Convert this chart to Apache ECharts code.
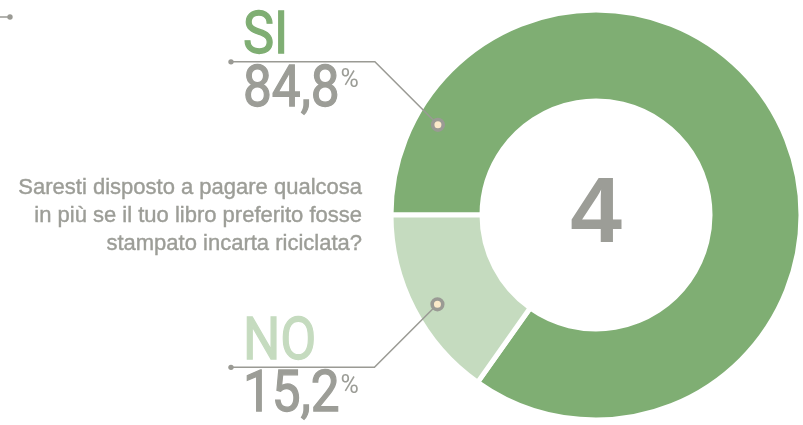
<!DOCTYPE html>
<html>
<head>
<meta charset="utf-8">
<script src="https://cdn.jsdelivr.net/npm/echarts@6/dist/echarts.min.js"></script>
<style>
html,body{margin:0;padding:0;background:#fff;}
#chart{width:803px;height:425px;}
</style>
</head>
<body>
<div id="chart"></div>
<script>
// ---- data ----
const categories = ['SI', 'NO'];
const values = [84.8, 15.2];
const valueLabels = ['84,8', '15,2'];
const centerNumber = '4';
const questionLines = [
  'Saresti disposto a pagare qualcosa',
  'in più se il tuo libro preferito fosse',
  'stampato incarta riciclata?'
];

// ---- style ----
const colors = ['#7fae73', '#c5dbbf'];
const grey = '#9c9d97';
const lineGrey = '#9a9a94';
const cx = 596, cy = 215, rIn = 114, rOut = 205;
const calloutAngles = [150.3, 209.4]; // degrees (math convention) where callout dots sit
const calloutR = 182;
const labelX = 246;
const lineStartX = 231;
const narrow = 0.9;
const bigFont = '57px Roboto';
const catFont = '60px Roboto';
const pctFont = '25px Roboto';

const mctx = document.createElement('canvas').getContext('2d');
function textW(t, f) { mctx.font = f; return mctx.measureText(t).width; }

const chart = echarts.init(document.getElementById('chart'), null, {renderer: 'canvas'});

const graphics = [];
// small decorative mark top-left
graphics.push({type: 'line', shape: {x1: 0, y1: 17, x2: 10, y2: 17}, style: {stroke: lineGrey, lineWidth: 1.5}});
graphics.push({type: 'circle', shape: {cx: 10, cy: 17, r: 2.7}, style: {fill: lineGrey}});

categories.forEach((c, i) => {
  const a = calloutAngles[i] * Math.PI / 180;
  const dx = cx + calloutR * Math.cos(a);
  const dy = cy - calloutR * Math.sin(a);
  const sign = i === 0 ? -1 : 1;
  const ex = dx - 63;
  const ey = dy + sign * 63;
  graphics.push({type: 'polyline', shape: {points: [[lineStartX, ey], [ex, ey], [dx, dy]]},
    style: {stroke: lineGrey, lineWidth: 1.5, fill: null}, z: 10});
  graphics.push({type: 'circle', shape: {cx: lineStartX, cy: ey, r: 2.7}, style: {fill: lineGrey}, z: 10});
  graphics.push({type: 'circle', shape: {cx: dx, cy: dy, r: 5.3}, style: {fill: '#fbe9c9', stroke: lineGrey, lineWidth: 3.6}, z: 11});
  // category label above the line
  graphics.push({type: 'text', x: labelX - 3, y: ey - 23.5, scaleX: narrow * 0.97, z: 10,
    style: {text: c, fill: colors[i], stroke: colors[i], lineWidth: 1.3, font: catFont, align: 'left', verticalAlign: 'middle'}});
  // value label below the line
  graphics.push({type: 'text', x: labelX - 3, y: ey + 29.5, scaleX: narrow, z: 10,
    style: {text: valueLabels[i], fill: grey, stroke: grey, lineWidth: 1.3, font: bigFont, align: 'left', verticalAlign: 'middle'}});
  const w = textW(valueLabels[i], bigFont) * narrow;
  graphics.push({type: 'text', x: labelX - 3 + w + 1, y: ey + 19, scaleX: 1.0, z: 10,
    style: {text: '%', fill: grey, font: pctFont, align: 'left', verticalAlign: 'middle'}});
});

// question text
graphics.push({type: 'text', x: 362, y: 216,
  style: {text: questionLines.join('\n'), fill: grey, stroke: grey, lineWidth: 0.4, font: '22px "Liberation Sans"', align: 'right', verticalAlign: 'middle', lineHeight: 28}});

// center number
graphics.push({type: 'text', x: cx, y: cy + 1, z: 10,
  style: {text: centerNumber, fill: grey, font: 'bold 93px "Liberation Sans"', align: 'center', verticalAlign: 'middle'}});

chart.setOption({
  animation: false,
  backgroundColor: '#fff',
  series: [{
    type: 'pie',
    center: [cx, cy],
    radius: [rIn, rOut],
    startAngle: 180,
    clockwise: true,
    label: {show: false},
    labelLine: {show: false},
    emphasis: {disabled: true},
    itemStyle: {borderColor: '#fff', borderWidth: 5},
    data: categories.map((c, i) => ({name: c, value: values[i], itemStyle: {color: colors[i]}}))
  }],
  graphic: graphics
});
</script>
</body>
</html>
